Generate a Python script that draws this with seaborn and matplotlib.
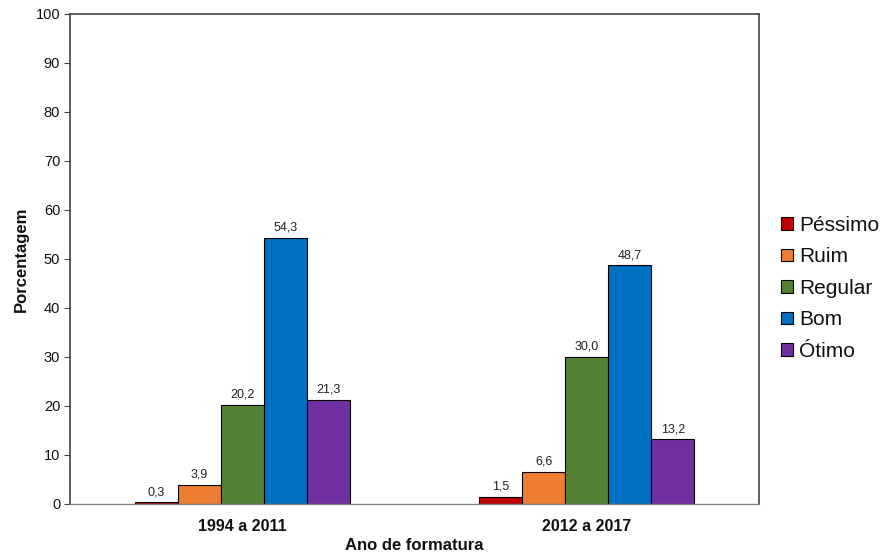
import matplotlib
matplotlib.use("Agg")
import matplotlib.pyplot as plt
import seaborn as sns
import pandas as pd

periods = ["1994 a 2011", "2012 a 2017"]
ratings = ["Péssimo", "Ruim", "Regular", "Bom", "Ótimo"]
pct_1994_2011 = [0.3, 3.9, 20.2, 54.3, 21.3]
pct_2012_2017 = [1.5, 6.6, 30.0, 48.7, 13.2]
colors = ["#C00000", "#ED7D31", "#548235", "#0070C0", "#7030A0"]
y_ticks = list(range(0, 101, 10))

rows = []
for period, vals in zip(periods, [pct_1994_2011, pct_2012_2017]):
    for r, v in zip(ratings, vals):
        rows.append({"Ano de formatura": period, "Avaliação": r, "Porcentagem": v})
df = pd.DataFrame(rows)

sns.set_theme(style="white")
plt.rcParams["font.family"] = ["Liberation Sans", "DejaVu Sans"]

fig = plt.figure(figsize=(8.8, 5.58), dpi=100)
ax = fig.add_axes([0.0795, 0.097, 0.783, 0.878])

sns.barplot(data=df, x="Ano de formatura", y="Porcentagem", hue="Avaliação",
            hue_order=ratings, order=periods, palette=colors, width=0.625,
            edgecolor="black", linewidth=0.8, saturation=1, ax=ax, errorbar=None)

for cont in ax.containers:
    labels = [f"{b.get_height():.1f}".replace(".", ",") for b in cont]
    ax.bar_label(cont, labels=labels, padding=3, fontsize=9, color="#222222")

ax.set_ylim(0, 100)
ax.set_xlim(-0.5, 1.5)
ax.set_yticks(y_ticks)
ax.tick_params(axis="y", which="both", left=True, length=4, width=0.8,
               labelsize=10.5, color="#444444", pad=3, labelcolor="#111111")
ax.tick_params(axis="x", bottom=False, labelsize=11.5, pad=5, labelcolor="#111111")
for lbl in ax.get_xticklabels():
    lbl.set_fontweight("bold")

ax.set_ylabel("Porcentagem", fontsize=12, fontweight="bold", labelpad=5, color="#111111")
ax.set_xlabel("Ano de formatura", fontsize=12, fontweight="bold", labelpad=3, color="#111111")

for side in ["left", "top", "right"]:
    ax.spines[side].set_color("#444444")
    ax.spines[side].set_linewidth(1.2)
ax.spines["bottom"].set_color("#888888")
ax.spines["bottom"].set_linewidth(1.0)

handles, labels = ax.get_legend_handles_labels()
ax.legend(handles, labels, loc="center left", bbox_to_anchor=(1.02, 0.44),
          frameon=False, fontsize=15, handlelength=0.55, handleheight=0.55,
          handletextpad=0.3, labelspacing=0.6, borderaxespad=0,
          labelcolor="#111111")

fig.savefig("out.png", dpi=100)
